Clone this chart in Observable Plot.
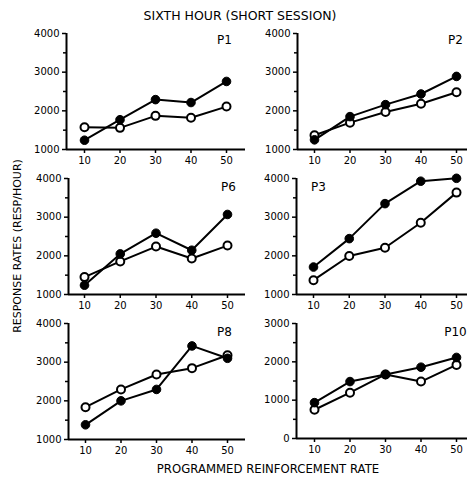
<!DOCTYPE html>
<html><head><meta charset="utf-8">
<script src="https://cdn.jsdelivr.net/npm/d3@7"></script>
<script src="https://cdn.jsdelivr.net/npm/@observablehq/plot@0.6"></script>
<style>
body{margin:0;background:#fff;}
#chart{position:relative;width:467px;height:477px;font-family:"DejaVu Sans",sans-serif;color:#000;overflow:hidden;}
#chart svg{position:absolute;overflow:visible;}
.t{position:absolute;white-space:nowrap;line-height:1;}
</style></head><body><div id="chart"></div>
<script>
// ---- data ----
const rates = [10, 20, 30, 40, 50];
const panelNames = ["P1", "P2", "P6", "P3", "P8", "P10"];
const filledP1 = [1240, 1770, 2290, 2215, 2760];
const openP1   = [1575, 1560, 1870, 1820, 2110];
const filledP2 = [1250, 1850, 2160, 2435, 2890];
const openP2   = [1370, 1695, 1970, 2185, 2480];
const filledP6 = [1240, 2050, 2585, 2145, 3070];
const openP6   = [1450, 1855, 2240, 1930, 2265];
const filledP3 = [1710, 2445, 3350, 3930, 4005];
const openP3   = [1370, 1995, 2210, 2855, 3635];
const filledP8 = [1380, 2000, 2295, 3420, 3100];
const openP8   = [1835, 2295, 2680, 2845, 3180];
const filledP10 = [935, 1485, 1670, 1860, 2115];
const openP10   = [750, 1195, 1670, 1485, 1920];
const yTicksMain = [1000, 2000, 3000, 4000];
const yMinorMain = [1500, 2500, 3500];
const yTicksP10 = [0, 1000, 2000, 3000];
const yMinorP10 = [500, 1500, 2500];
const titleText = "SIXTH HOUR (SHORT SESSION)";
const yLabelText = "RESPONSE RATES (RESP/HOUR)";
const xLabelText = "PROGRAMMED REINFORCEMENT RATE";

const series = {
  P1: [filledP1, openP1], P2: [filledP2, openP2], P6: [filledP6, openP6],
  P3: [filledP3, openP3], P8: [filledP8, openP8], P10: [filledP10, openP10]
};
const yTicks = {P1: yTicksMain, P2: yTicksMain, P6: yTicksMain, P3: yTicksMain, P8: yTicksMain, P10: yTicksP10};
const yMinor = {P1: yMinorMain, P2: yMinorMain, P6: yMinorMain, P3: yMinorMain, P8: yMinorMain, P10: yMinorP10};

// ---- layout (pixels) ----
const layout = {
  P1:  {axisX: 66,  end: 245, x10: 84,  x50: 226, top: 33,  bot: 149, lx: 224, ly: 40},
  P2:  {axisX: 297, end: 467, x10: 314, x50: 456, top: 33,  bot: 149, lx: 455, ly: 40},
  P6:  {axisX: 68,  end: 245, x10: 84,  x50: 227, top: 178, bot: 294, lx: 228, ly: 187},
  P3:  {axisX: 296, end: 467, x10: 313, x50: 456, top: 178, bot: 294, lx: 318, ly: 187},
  P8:  {axisX: 68,  end: 245, x10: 85,  x50: 227, top: 323, bot: 439, lx: 224, ly: 332},
  P10: {axisX: 296, end: 467, x10: 314, x50: 456, top: 323, bot: 438, lx: 455, ly: 332}
};

const chart = document.getElementById("chart");
const font = "DejaVu Sans, sans-serif";
const fmt = d3.format("d");

for (const name of panelNames) {
  const L = layout[name];
  const [filled, open] = series[name];
  const ticks = yTicks[name];
  const ymin = ticks[0], ymax = ticks[ticks.length - 1];
  const k = (L.x50 - L.x10) / 40;
  const xStart = 10 + (L.axisX - L.x10) / k;
  const xEnd = 10 + (L.end - L.x10) / k;
  const mL = 42, mT = 12, mB = 24;
  const svgLeft = L.axisX - mL, svgTop = L.top - mT;
  const width = L.end - svgLeft;
  const height = L.bot - L.top + mT + mB;
  const fd = rates.map((r, i) => ({x: r, y: filled[i]}));
  const od = rates.map((r, i) => ({x: r, y: open[i]}));
  const svg = Plot.plot({
    width, height,
    marginLeft: mL, marginRight: 0, marginTop: mT, marginBottom: mB,
    style: {fontFamily: font, fontSize: "10px", background: "transparent", color: "#000"},
    x: {domain: [xStart, xEnd]},
    y: {domain: [ymin, ymax]},
    marks: [
      Plot.axisX({ticks: rates, tickSize: 4, tickPadding: 3, fontSize: 10, label: null, strokeWidth: 1.5, tickFormat: fmt}),
      Plot.axisY({ticks: ticks, tickSize: 4, tickPadding: 3, fontSize: 10, label: null, strokeWidth: 1.5, tickFormat: fmt}),
      Plot.axisY({ticks: yMinor[name], tickSize: 3, tickFormat: () => "", label: null, strokeWidth: 1.5}),
      Plot.ruleY([ymin], {x1: xStart, x2: xEnd, strokeWidth: 2}),
      Plot.ruleX([xStart], {y1: ymin, y2: ymax, strokeWidth: 2}),
      Plot.line(od, {x: "x", y: "y", stroke: "black", strokeWidth: 2}),
      Plot.line(fd, {x: "x", y: "y", stroke: "black", strokeWidth: 2}),
      Plot.dot(od, {x: "x", y: "y", r: 4, fill: "white", stroke: "black", strokeWidth: 2}),
      Plot.dot(fd, {x: "x", y: "y", r: 4.3, fill: "black", stroke: "black", strokeWidth: 1}),
      Plot.text([name], {frameAnchor: "top-left", dx: L.lx - L.axisX, dy: L.ly - L.top, fontSize: 12, textAnchor: "middle", lineAnchor: "middle", fill: "black"})
    ]
  });
  svg.style.left = svgLeft + "px";
  svg.style.top = svgTop + "px";
  chart.appendChild(svg);
}

function addText(text, cx, cy, size, rotate) {
  const d = document.createElement("div");
  d.className = "t";
  d.textContent = text;
  d.style.fontSize = size + "px";
  d.style.left = cx + "px";
  d.style.top = cy + "px";
  d.style.transform = "translate(-50%,-50%)" + (rotate ? " rotate(-90deg)" : "");
  chart.appendChild(d);
}
addText(titleText, 240, 16, 12.5, false);
addText(xLabelText, 268, 470, 11.7, false);
addText(yLabelText, 17, 246, 11, true);
</script></body></html>
